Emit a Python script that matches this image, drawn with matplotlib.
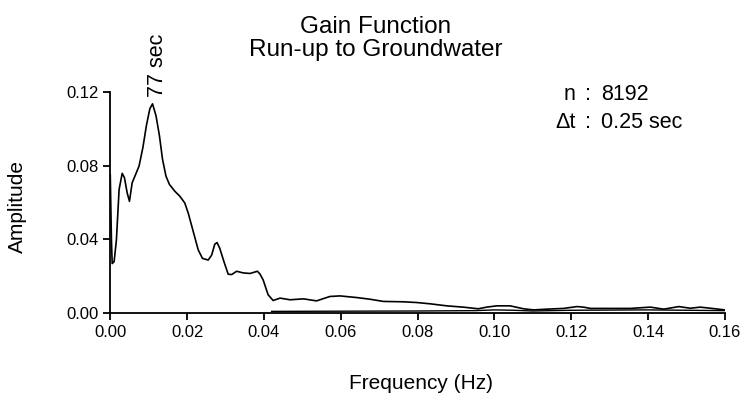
import matplotlib
matplotlib.use("Agg")
import matplotlib.pyplot as plt

plt.rcParams['font.family'] = ['Liberation Sans', 'DejaVu Sans']

# Gain function
freq = [0.0, 0.0003, 0.0005, 0.001, 0.0016, 0.0023, 0.0031, 0.0037, 0.0044, 0.005,
        0.0057, 0.0066, 0.0075, 0.0085, 0.0094, 0.0103, 0.011, 0.0119, 0.0128,
        0.0136, 0.0145, 0.0154, 0.0168, 0.0181, 0.0194, 0.0203, 0.0216, 0.0229,
        0.024, 0.0255, 0.0264, 0.0272, 0.0278, 0.0285, 0.0296, 0.0307, 0.0316,
        0.0329, 0.0346, 0.0364, 0.0383, 0.039, 0.0398, 0.0411, 0.0424, 0.0442,
        0.0468, 0.0503, 0.0537, 0.0572, 0.0598, 0.0642, 0.0676, 0.0711, 0.0763,
        0.0798, 0.0833, 0.0876, 0.0919, 0.0958, 0.098, 0.1006, 0.1041, 0.1076,
        0.1102, 0.1136, 0.118, 0.1215, 0.1232, 0.125, 0.131, 0.1354, 0.1406,
        0.1441, 0.148, 0.151, 0.1536, 0.1562, 0.16]
amplitude = [0.075, 0.040, 0.0268, 0.0278, 0.0396, 0.067, 0.0758, 0.0734, 0.0652, 0.0606,
             0.0707, 0.0752, 0.0798, 0.0899, 0.1017, 0.1109, 0.1136, 0.1072, 0.0963,
             0.0835, 0.0743, 0.0698, 0.0661, 0.0634, 0.0597, 0.0542, 0.0442, 0.0342,
             0.0296, 0.0287, 0.0314, 0.0373, 0.0382, 0.0351, 0.0278, 0.021, 0.0208,
             0.0226, 0.0217, 0.0214, 0.0226, 0.021, 0.0179, 0.0098, 0.0067, 0.008,
             0.0071, 0.0076, 0.0065, 0.0089, 0.0092, 0.0083, 0.0074, 0.0062, 0.006,
             0.0056, 0.0049, 0.0038, 0.0031, 0.0022, 0.0031, 0.0038, 0.0038, 0.0022,
             0.0016, 0.002, 0.0024, 0.0034, 0.0031, 0.0024, 0.0024, 0.0024, 0.0031,
             0.002, 0.0034, 0.0025, 0.0031, 0.0025, 0.0016]

# faint lower trace hugging the axis
low_freq = [0.042, 0.06, 0.08, 0.095, 0.1, 0.105, 0.11, 0.12, 0.13, 0.14, 0.15, 0.16]
low_amp = [0.0008, 0.0009, 0.0010, 0.0012, 0.0016, 0.0014, 0.0010, 0.0014, 0.0015,
           0.0016, 0.0014, 0.0012]

xticks = [0.00, 0.02, 0.04, 0.06, 0.08, 0.10, 0.12, 0.14, 0.16]
yticks = [0.00, 0.04, 0.08, 0.12]

fig = plt.figure(figsize=(7.45, 3.95), dpi=100)
ax = fig.add_axes([0.148, 0.208, 0.825, 0.559])
ax.plot(freq, amplitude, color='black', lw=1.2)
ax.plot(low_freq, low_amp, color='black', lw=1.0)

ax.set_xlim(0, 0.16)
ax.set_ylim(0, 0.12)
ax.set_xticks(xticks)
ax.set_xticklabels([f"{t:.2f}" for t in xticks])
ax.set_yticks(yticks)
ax.set_yticklabels([f"{t:.2f}" for t in yticks])
for s in ['top', 'right']:
    ax.spines[s].set_visible(False)
for s in ['left', 'bottom']:
    ax.spines[s].set_linewidth(1.3)
ax.tick_params(direction='out', length=5, width=1.3, labelsize=12, pad=3.5)

fig.text(0.565, 0.028, 'Frequency (Hz)', ha='center', va='center', fontsize=15)
fig.text(0.024, 0.476, 'Amplitude', ha='center', va='center', rotation=90, fontsize=15)

fig.text(0.504, 0.932, 'Gain Function', ha='center', va='center', fontsize=17.5)
fig.text(0.504, 0.873, 'Run-up to Groundwater', ha='center', va='center', fontsize=17.5)

ax.annotate('77 sec', xy=(0.0124, 0.1175), ha='center', va='bottom', rotation=90,
            fontsize=15.5)

fig.text(0.773, 0.760, 'n', ha='right', va='center', fontsize=15.5)
fig.text(0.789, 0.760, ':', ha='center', va='center', fontsize=15.5)
fig.text(0.807, 0.760, '8192', ha='left', va='center', fontsize=15.5)
fig.text(0.773, 0.691, 'Δt', ha='right', va='center', fontsize=15.5)
fig.text(0.789, 0.691, ':', ha='center', va='center', fontsize=15.5)
fig.text(0.807, 0.691, '0.25 sec', ha='left', va='center', fontsize=15.5)

fig.savefig('out.png', dpi=100)
